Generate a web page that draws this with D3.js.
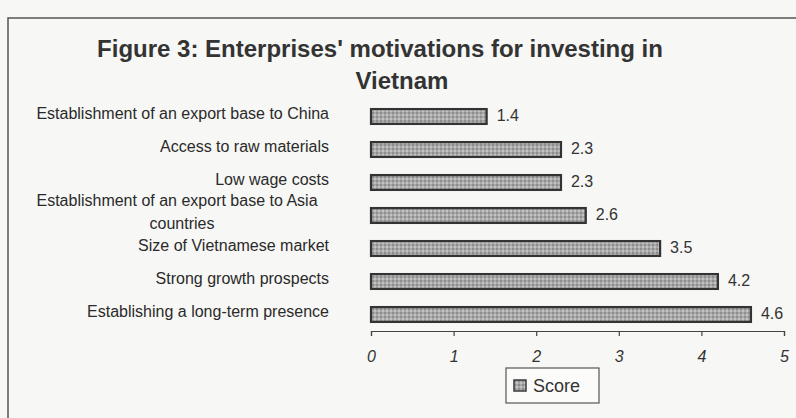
<!DOCTYPE html>
<html lang="en">
<head>
<meta charset="UTF-8">
<title>Figure 3</title>
<style>
    body { margin: 0; background: #f7f7f5; }
    svg { display: block; font-family: "Liberation Sans", Arial, sans-serif; }
</style>
</head>
<body>
<svg width="796" height="418"></svg>
<script src="https://d3js.org/d3.v7.min.js"></script>
<script>
    // data, top to bottom
    var categories = [
        "Establishment of an export base to China",
        "Access to raw materials",
        "Low wage costs",
        "Establishment of an export base to Asia countries",
        "Size of Vietnamese market",
        "Strong growth prospects",
        "Establishing a long-term presence"
    ];
    var scores = [1.4, 2.3, 2.3, 2.6, 3.5, 4.2, 4.6];
    var xTicks = [0, 1, 2, 3, 4, 5];

    var svg = d3.select("svg");

    // pattern that mimics the speckled grey fill
    var defs = svg.append("defs");
    var pat = defs.append("pattern")
        .attr("id", "speckle")
        .attr("width", 4).attr("height", 4)
        .attr("patternUnits", "userSpaceOnUse");
    pat.append("rect").attr("width", 4).attr("height", 4).attr("fill", "#a8a8a8");
    pat.append("rect").attr("x", 0).attr("y", 0).attr("width", 2).attr("height", 2).attr("fill", "#8e8e8e");
    pat.append("rect").attr("x", 2).attr("y", 2).attr("width", 2).attr("height", 2).attr("fill", "#c2c2c2");

    // frame of the scanned figure
    svg.append("path")
        .attr("d", "M8,418 L8,18 L796,18")
        .attr("fill", "none")
        .attr("stroke", "#555")
        .attr("stroke-width", 1.5);

    // title
    svg.append("text")
        .attr("x", 380).attr("y", 57)
        .attr("text-anchor", "middle")
        .style("font-size", "24px").style("font-weight", "bold")
        .attr("fill", "#333")
        .text("Figure 3: Enterprises' motivations for investing in");
    svg.append("text")
        .attr("x", 402).attr("y", 89)
        .attr("text-anchor", "middle")
        .style("font-size", "24px").style("font-weight", "bold")
        .attr("fill", "#333")
        .text("Vietnam");

    var x = d3.scaleLinear().domain([0, 5]).range([371, 784]);
    var y = d3.scaleBand().domain(categories).range([100, 331])
        .paddingInner(0.55).paddingOuter(0.275);

    // bars
    svg.selectAll(".bar")
        .data(scores)
        .enter().append("rect")
        .attr("class", "bar")
        .attr("x", x(0))
        .attr("y", function (d, i) { return y(categories[i]); })
        .attr("width", function (d) { return x(d) - x(0); })
        .attr("height", y.bandwidth())
        .attr("fill", "url(#speckle)")
        .attr("stroke", "#333")
        .attr("stroke-width", 2.2);

    // value labels
    svg.selectAll(".val")
        .data(scores)
        .enter().append("text")
        .attr("class", "val")
        .attr("x", function (d) { return x(d) + 10; })
        .attr("y", function (d, i) { return y(categories[i]) + y.bandwidth() / 2 - 1; })
        .attr("dy", "0.35em")
        .style("font-size", "16px")
        .attr("fill", "#333")
        .text(function (d) { return d.toFixed(1); });

    // category labels
    categories.forEach(function (c, i) {
        var cy = y(c) + y.bandwidth() / 2;
        if (c === "Establishment of an export base to Asia countries") {
            svg.append("text")
                .attr("x", 177).attr("y", cy - 15).attr("dy", "0.35em")
                .attr("text-anchor", "middle")
                .style("font-size", "16px").attr("fill", "#2a2a2a")
                .text("Establishment of an export base to Asia");
            svg.append("text")
                .attr("x", 182).attr("y", cy + 8).attr("dy", "0.35em")
                .attr("text-anchor", "middle")
                .style("font-size", "16px").attr("fill", "#2a2a2a")
                .text("countries");
        } else {
            svg.append("text")
                .attr("x", 329).attr("y", cy - 3).attr("dy", "0.35em")
                .attr("text-anchor", "end")
                .style("font-size", "16px").attr("fill", "#2a2a2a")
                .text(c);
        }
    });

    // x axis
    var axis = svg.append("g")
        .attr("transform", "translate(0,331)")
        .call(d3.axisBottom(x).tickValues(xTicks).tickSize(5).tickPadding(15)
            .tickFormat(d3.format("d")));
    axis.select(".domain").attr("stroke", "#444").attr("stroke-width", 1.2);
    axis.selectAll(".tick line").attr("stroke", "#444").attr("stroke-width", 1.2);
    axis.selectAll(".tick text")
        .style("font-size", "16px")
        .style("font-style", "italic")
        .style("font-family", "Liberation Sans, Arial, sans-serif")
        .attr("fill", "#333");

    // legend
    var lg = svg.append("g").attr("transform", "translate(506,368)");
    lg.append("rect")
        .attr("width", 93).attr("height", 35)
        .attr("fill", "#fbfbfa").attr("stroke", "#555").attr("stroke-width", 1.2);
    lg.append("rect")
        .attr("x", 8).attr("y", 12).attr("width", 12).attr("height", 11)
        .attr("fill", "url(#speckle)").attr("stroke", "#3a3a3a").attr("stroke-width", 1.5);
    lg.append("text")
        .attr("x", 27).attr("y", 18).attr("dy", "0.35em")
        .style("font-size", "18px").attr("fill", "#333")
        .text("Score");
</script>
</body>
</html>
